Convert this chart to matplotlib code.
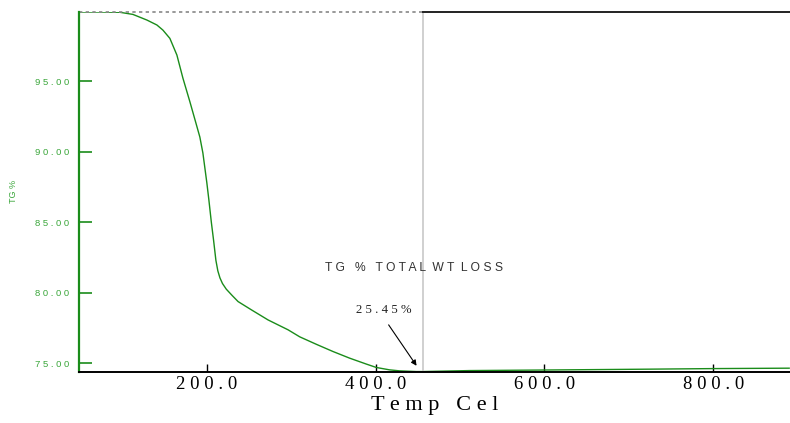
import matplotlib
matplotlib.use('Agg')
from matplotlib import pyplot as plt

# TG curve
temp = [49.7, 73.4, 97.0, 112.4, 129.0, 140.8, 147.9, 156.2, 164.5, 171.6,
        179.9, 187.0, 191.7, 195.3, 200.0, 202.4, 205.3, 208.0, 210.7, 213.0,
        215.5, 218.5, 223.0, 230.0, 237.0, 252.9, 272.5, 296.2, 310.1, 329.8,
        349.5, 369.2, 389.0, 400.8, 416.6, 428.4, 448.2, 455.6, 511.2, 600.0,
        724.3, 798.8, 890.0]
tg = [99.89, 99.89, 99.87, 99.72, 99.32, 98.97, 98.61, 98.02, 96.84, 95.21,
      93.53, 92.03, 91.03, 89.90, 87.78, 86.57, 85.00, 83.70, 82.30, 81.55,
      81.05, 80.65, 80.25, 79.80, 79.37, 78.78, 78.07, 77.37, 76.87, 76.34,
      75.83, 75.36, 74.94, 74.70, 74.53, 74.46, 74.41, 74.41, 74.48, 74.52,
      74.58, 74.62, 74.65]

x_ticks = [200, 400, 600, 800]
y_ticks = [75, 80, 85, 90, 95]
marker_temp = 455.6
total_loss = 25.45

xmin, xmax = 48.5, 891.0
ymin, ymax = 74.38, 99.92


def spaced(s):
    return ' '.join(s)


fig = plt.figure(figsize=(7.9, 4.23), dpi=100)
ax = fig.add_axes([0.1, 0.1206, 0.9, 0.852])

ax.plot(temp, tg, color='#1a8c1a', lw=1.0)
ax.set_xlim(xmin, xmax)
ax.set_ylim(ymin, ymax)

# marker line for the total weight loss
ax.axvline(marker_temp, color='#c8c8c8', lw=1.2)
frac = (marker_temp - xmin) / (xmax - xmin)
ax.axhline(ymax, xmin=0, xmax=frac, color='#888888', lw=1.2, ls=(0, (2, 2)), clip_on=False)
ax.axhline(ymax, xmin=frac, xmax=1, color='#222222', lw=1.4, clip_on=False)

for side in ['top', 'right']:
    ax.spines[side].set_visible(False)
ax.spines['left'].set_color('#1a8c1a')
ax.spines['left'].set_linewidth(1.6)
ax.spines['bottom'].set_color('black')
ax.spines['bottom'].set_linewidth(1.4)

ax.set_xticks(x_ticks)
ax.set_xticklabels([spaced('%.1f' % v) for v in x_ticks],
                   fontfamily='Liberation Serif', fontsize=13.5)
ax.tick_params(axis='x', direction='in', length=6, width=1, color='black', pad=3)

ax.set_yticks(y_ticks)
ax.set_yticklabels([spaced('%.2f' % v) for v in y_ticks],
                   fontfamily='Liberation Sans', fontsize=6.8, color='#3aa63a')
ax.tick_params(axis='y', direction='in', length=9, width=1.2, color='#1a8c1a', pad=7)

ax.set_xlabel('T e m p   C e l', fontfamily='Liberation Serif', fontsize=16, labelpad=2)
ax.set_ylabel('TG %', fontfamily='Liberation Sans', fontsize=6.5, color='#3aa63a', labelpad=12)

ax.text(446, 81.76, spaced('TG % TOTAL') + '  ' + spaced('WT') + '  ' + spaced('LOSS'),
        ha='center', va='center', fontfamily='Liberation Sans', fontsize=8.7, color='#333333')
ax.text(409.5, 78.78, spaced('%.2f%%' % total_loss), ha='center', va='center',
        fontfamily='Liberation Serif', fontsize=9.2, color='#222222')
ax.annotate('', xy=(448.5, 74.82), xytext=(415.4, 77.72),
            arrowprops=dict(arrowstyle='-|>', color='black', lw=0.8,
                            mutation_scale=8, shrinkA=0, shrinkB=0))

plt.savefig('out.png', dpi=100)
